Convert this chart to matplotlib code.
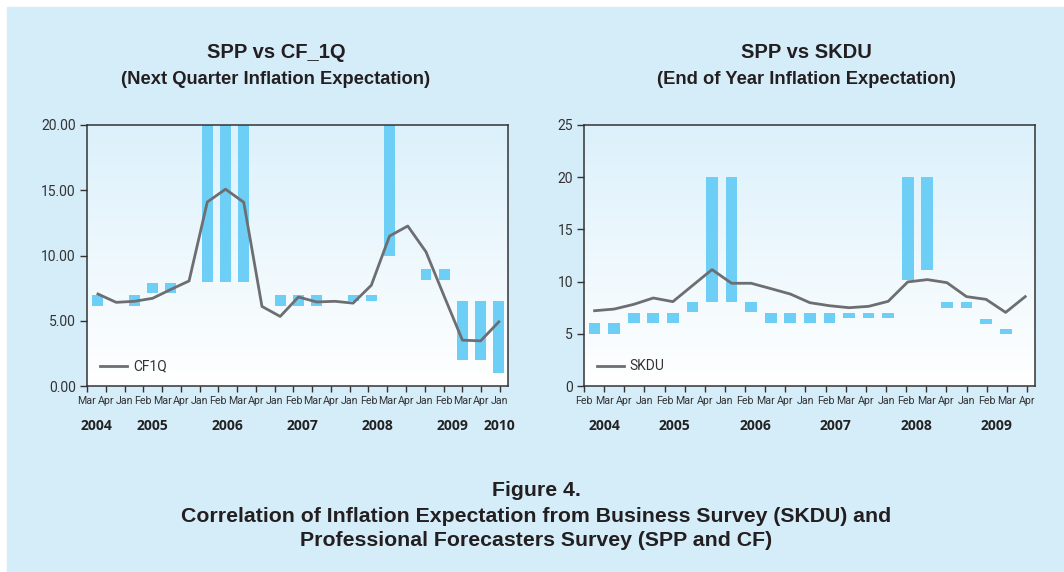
import numpy as np
import matplotlib.pyplot as plt
from matplotlib.colors import LinearSegmentedColormap
from matplotlib.patches import Rectangle

# SPP vs CF_1Q (left panel)
months_l = ['Mar', 'Apr',
            'Jan', 'Feb', 'Mar', 'Apr',
            'Jan', 'Feb', 'Mar', 'Apr',
            'Jan', 'Feb', 'Mar', 'Apr',
            'Jan', 'Feb', 'Mar', 'Apr',
            'Jan', 'Feb', 'Mar', 'Apr',
            'Jan']
years_l = ['2004', '2005', '2006', '2007', '2008', '2009', '2010']
year_len_l = [2, 4, 4, 4, 4, 4, 1]
cf1q = [7.05, 6.41, 6.49, 6.72, 7.40, 8.05, 14.1, 15.08, 14.08, 6.1, 5.33, 6.82,
        6.44, 6.49, 6.35, 7.72, 11.49, 12.26, 10.28, 6.87, 3.51, 3.46, 4.92]
spp_lo_l = [6.1, None, 6.1, 7.1, 7.1, None, 7.95, 7.95, 7.95, None, 6.1, 6.1,
            6.1, None, 6.5, 6.5, 10.0, None, 8.1, 8.1, 2.0, 2.0, 1.0]
spp_hi_l = [7.0, None, 7.0, 7.9, 7.9, None, 20, 20, 20, None, 7.0, 7.0,
            7.0, None, 7.0, 7.0, 20, None, 9.0, 9.0, 6.5, 6.5, 6.5]

# SPP vs SKDU (right panel)
months_r = ['Feb', 'Mar', 'Apr',
            'Jan', 'Feb', 'Mar', 'Apr',
            'Jan', 'Feb', 'Mar', 'Apr',
            'Jan', 'Feb', 'Mar', 'Apr',
            'Jan', 'Feb', 'Mar', 'Apr',
            'Jan', 'Feb', 'Mar', 'Apr']
years_r = ['2004', '2005', '2006', '2007', '2008', '2009']
year_len_r = [3, 4, 4, 4, 4, 4]
skdu = [7.21, 7.37, 7.82, 8.43, 8.08, 9.62, 11.15, 9.84, 9.84, 9.33, 8.81, 7.98,
        7.69, 7.5, 7.63, 8.11, 9.97, 10.19, 9.9, 8.56, 8.3, 7.05, 8.56]
spp_lo_r = [5, 5, 6, 6, 6, 7.1, 8, 8, 7.1, 6, 6, 6,
            6, 6.5, 6.5, 6.5, 10.2, 11.1, 7.5, 7.5, 5.9, 5.0, None]
spp_hi_r = [6, 6, 7, 7, 7, 8, 20, 20, 8, 7, 7, 7,
            7, 7, 7, 7, 20, 20, 8, 8, 6.4, 5.5, None]

bg = '#d5ecf9'
bar_col = '#6dcff6'
line_col = '#6d6e71'
dark = '#333333'
tick_font = ['Roboto', 'DejaVu Sans']
grad = LinearSegmentedColormap.from_list('g', ['#ffffff', '#dcf1fb'])

fig = plt.figure(figsize=(10.64, 5.72), dpi=100)
fig.patch.set_facecolor('white')
fig.patches.append(Rectangle((7 / 1064, 0), 1, 565 / 572, transform=fig.transFigure,
                             color=bg, zorder=-10))


def panel(rect, line, lo, hi, months, years, year_len, ymax, ystep, fmt,
          label, title, subtitle, tick_span, cx):
    ax = fig.add_axes(rect)
    n = len(months)
    x = np.arange(n)
    ax.imshow(np.linspace(0, 1, 100).reshape(-1, 1), cmap=grad, origin='lower',
              extent=[0, 1, 0, 1], transform=ax.transAxes, aspect='auto', zorder=0)
    bx = [i for i in x if lo[i] is not None]
    ax.bar(bx, [hi[i] - lo[i] for i in bx], bottom=[lo[i] for i in bx], width=0.6,
           color=bar_col, zorder=2)
    ax.plot(x, line, color=line_col, lw=2.0, zorder=3, label=label)
    ax.set_xlim(-0.5, n - 0.5)
    ax.set_ylim(0, ymax)
    ax.set_yticks(np.arange(0, ymax + 0.1, ystep))
    ax.set_yticklabels([fmt % v for v in np.arange(0, ymax + 0.1, ystep)],
                       family=tick_font, fontsize=10, color=dark)
    ticks = np.linspace(tick_span[0], tick_span[1], n)
    ax.set_xticks(ticks)
    ax.set_xticklabels(months, family=tick_font, fontsize=7.7, color=dark)
    ax.tick_params(axis='y', direction='out', length=5, width=1, color=dark, pad=3)
    ax.tick_params(axis='x', direction='out', length=4, width=1, color=dark, pad=3)
    for s in ax.spines.values():
        s.set_color(dark)
        s.set_linewidth(1.1)
    # year labels under month groups
    start = 0
    for yr, k in zip(years, year_len):
        pos = ticks[start] + (ticks[start + k - 1] - ticks[start]) / 2
        ax.text(pos, -0.155, yr, transform=ax.get_xaxis_transform(), ha='center',
                va='center', fontsize=10, fontweight='bold', color='#222222',
                family='Open Sans')
        start += k
    leg = ax.legend(loc='lower left', bbox_to_anchor=(0.0, 0.0), frameon=False,
                    handlelength=2.0, handletextpad=0.4,
                    prop={'family': tick_font, 'size': 10})
    for t in leg.get_texts():
        t.set_color(dark)
    fig.text(cx, 1 - 52 / 572, title, ha='center', va='center', fontsize=14.5,
             fontweight='bold', family='Liberation Sans', color='#231f20')
    fig.text(cx, 1 - 80 / 572, subtitle, ha='center', va='center', fontsize=13.2,
             fontweight='bold', family='Liberation Sans', color='#231f20')
    return ax


panel([87 / 1064, 186 / 572, 421 / 1064, 261 / 572], cf1q, spp_lo_l, spp_hi_l,
      months_l, years_l, year_len_l, 20, 5, '%.2f', 'CF1Q',
      'SPP vs CF_1Q', '(Next Quarter Inflation Expectation)', (-0.6, 22.05), 276 / 1064)
panel([584 / 1064, 186 / 572, 451 / 1064, 261 / 572], skdu, spp_lo_r, spp_hi_r,
      months_r, years_r, year_len_r, 25, 5, '%d', 'SKDU',
      'SPP vs SKDU', '(End of Year Inflation Expectation)', (-0.54, 22.09), 806 / 1064)

cap = dict(ha='center', va='center', fontsize=15.3, fontweight='bold',
           family='Liberation Sans', color='#231f20')
fig.text(536 / 1064, 1 - 490 / 572, 'Figure 4.', **cap)
fig.text(536 / 1064, 1 - 516 / 572,
         'Correlation of Inflation Expectation from Business Survey (SKDU) and', **cap)
fig.text(536 / 1064, 1 - 541 / 572, 'Professional Forecasters Survey (SPP and CF)', **cap)

fig.savefig('out.png', dpi=100)
